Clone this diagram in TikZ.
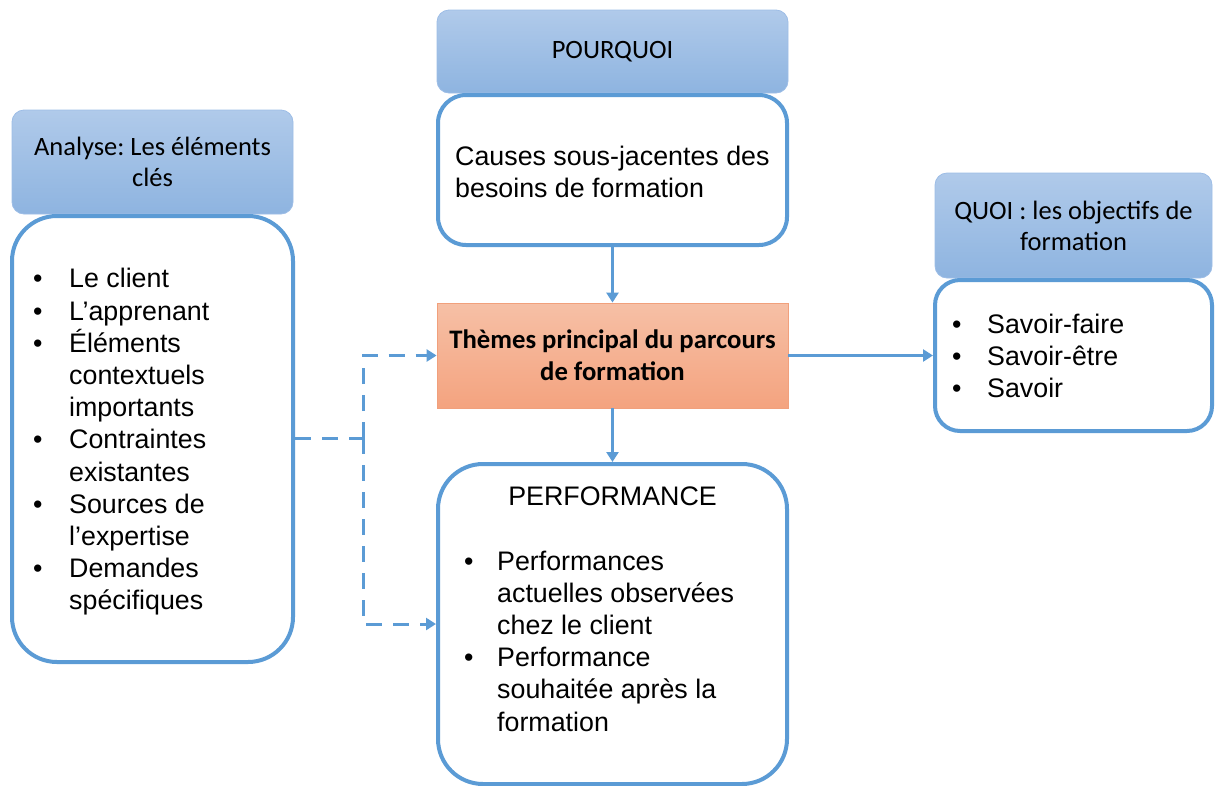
\documentclass[tikz,border=0pt]{standalone}
\usepackage{fontspec}
\setmainfont{Liberation Sans}
\newfontfamily\calib{Carlito}
\usetikzlibrary{arrows.meta}
\definecolor{boxblue}{HTML}{5B9BD5}
\definecolor{hdrtop}{HTML}{B0CAEA}
\definecolor{hdrbot}{HTML}{8EB4E0}
\definecolor{hdrline}{HTML}{9DBDE6}
\definecolor{ortop}{HTML}{F6C0A6}
\definecolor{orbot}{HTML}{F4A37F}
\definecolor{orline}{HTML}{F1A07C}
\newcommand\bul[1]{\makebox[#1][l]{•}}
\frenchspacing
\tikzset{
  hdr/.style={rounded corners=12pt, top color=hdrtop, bottom color=hdrbot,
    draw=hdrline, line width=0.8pt, align=center, inner sep=0pt,
    font=\calib\fontsize{26.5}{31}\selectfont},
  body/.style={draw=boxblue, line width=4pt, fill=white, inner sep=0pt},
  theme/.style={top color=ortop, bottom color=orbot, draw=orline, line width=0.8pt,
    align=center, inner sep=0pt, font=\calib\bfseries\fontsize{26.7}{32}\selectfont},
  txt/.style={align=left, inner sep=0pt, anchor=west,
    font=\fontsize{26.8}{32.2}\selectfont},
  flow/.style={draw=boxblue, line width=3pt, -{Triangle[length=10pt,width=12pt]}},
  dflow/.style={draw=boxblue, line width=3pt, dash pattern=on 16pt off 11pt},
}
\begin{document}
\begin{tikzpicture}[x=1pt,y=-1pt]
\useasboundingbox (0,0) rectangle (1215,785);

% left column: key elements
\node[hdr, minimum width=281pt, minimum height=104pt] (lhdr) at (152.5,162)
  {Analyse: Les éléments\\clés};
\node[body, rounded corners=45pt, minimum width=281pt, minimum height=446pt] (lbody) at (152.5,439) {};
\node[txt] (ltext) at (33,442) {%
  \bul{36pt}Le client\\
  \bul{36pt}L’apprenant\\
  \bul{36pt}Éléments\\
  \hspace*{36pt}contextuels\\
  \hspace*{36pt}importants\\
  \bul{36pt}Contraintes\\
  \hspace*{36pt}existantes\\
  \bul{36pt}Sources de\\
  \hspace*{36pt}l’expertise\\
  \bul{36pt}Demandes\\
  \hspace*{36pt}spécifiques};

% centre column: why
\node[hdr, minimum width=351pt, minimum height=83pt] (chdr) at (612.5,51.5) {POURQUOI};
\node[body, rounded corners=28pt, minimum width=349pt, minimum height=150pt] (causes) at (612.5,170) {};
\node[txt] (causestext) at (455,172) {Causes sous-jacentes des\\besoins de formation};

% central theme
\node[theme, minimum width=351pt, minimum height=105pt] (theme) at (612.5,355.5)
  {Thèmes principal du parcours\\de formation};

% performance
\node[body, rounded corners=45pt, minimum width=349pt, minimum height=320pt] (perf) at (612.5,624) {};
\node[inner sep=0pt, font=\fontsize{26.8}{32.2}\selectfont] (perftitle) at (612.5,496) {PERFORMANCE};
\node[txt] (perftext) at (464,641) {%
  \bul{33pt}Performances\\
  \hspace*{33pt}actuelles observées\\
  \hspace*{33pt}chez le client\\
  \bul{33pt}Performance\\
  \hspace*{33pt}souhaitée après la\\
  \hspace*{33pt}formation};

% right column: what
\node[hdr, minimum width=277pt, minimum height=105pt] (rhdr) at (1073.5,225.5)
  {QUOI : les objectifs de\\formation};
\node[body, rounded corners=25pt, minimum width=277pt, minimum height=151pt] (rbody) at (1073.5,355.5) {};
\node[txt] (rtext) at (952,356) {%
  \bul{35pt}Savoir-faire\\
  \bul{35pt}Savoir-être\\
  \bul{35pt}Savoir};

% connectors
\draw[flow] (causes.south) -- (theme.north);
\draw[flow] (theme.south) -- (perf.north);
\draw[flow] (theme.east) -- (rbody.west);

\coordinate (junc) at (363,438);
\draw[dflow] (lbody.east |- junc) -- (junc);
\draw[dflow, -{Triangle[length=10pt,width=12pt]}] (junc) |- (theme.west);
\draw[dflow, -{Triangle[length=10pt,width=12pt]}] (junc) |- (perf.west);
\end{tikzpicture}
\end{document}
